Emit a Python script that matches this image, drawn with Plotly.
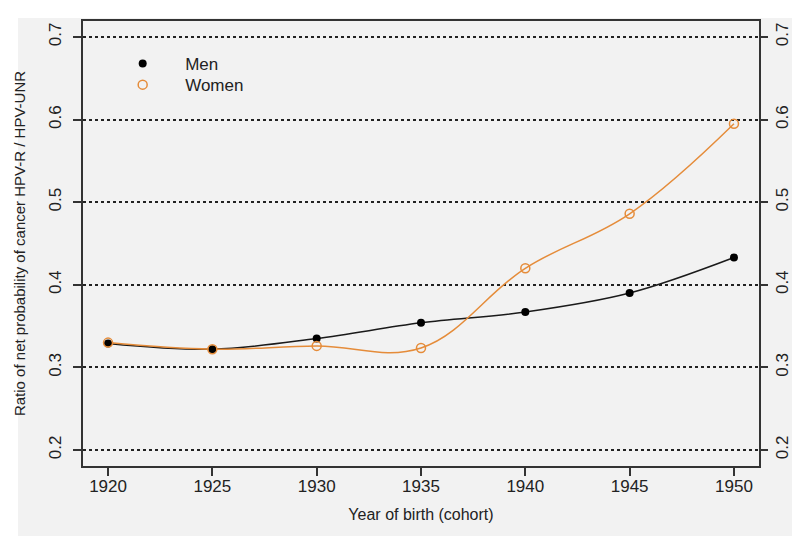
import plotly.graph_objects as go

years = [1920, 1925, 1930, 1935, 1940, 1945, 1950]
men = [0.329, 0.322, 0.335, 0.354, 0.367, 0.390, 0.433]
women = [0.330, 0.322, 0.326, 0.3235, 0.420, 0.486, 0.595]
y_ticks = [0.2, 0.3, 0.4, 0.5, 0.6, 0.7]

ORANGE = "#e58c3a"
FONT = "Liberation Sans, Arial, sans-serif"

fig = go.Figure()
# lines
fig.add_trace(go.Scatter(x=years, y=men, mode="lines", line=dict(color="#1a1a1a", width=1.5, shape="spline", smoothing=1.0), showlegend=False, hoverinfo="skip"))
fig.add_trace(go.Scatter(x=years, y=women, mode="lines", line=dict(color=ORANGE, width=1.5, shape="spline", smoothing=1.1), showlegend=False, hoverinfo="skip"))
# markers
fig.add_trace(go.Scatter(x=years, y=men, mode="markers", name="Men", legend="legend",
                         marker=dict(color="black", size=8, symbol="circle")))
fig.add_trace(go.Scatter(x=years, y=women, mode="markers", name="Women", legend="legend2",
                         marker=dict(color=ORANGE, size=9, symbol="circle-open", line=dict(width=1.5, color=ORANGE))))
# invisible trace for right axis
fig.add_trace(go.Scatter(x=[years[0]], y=[men[0]], yaxis="y2", mode="markers", marker=dict(opacity=0), showlegend=False, hoverinfo="skip"))

yrange = [0.1806, 0.7194]
leg_common = dict(xanchor="left", yanchor="middle", bgcolor="rgba(0,0,0,0)", font=dict(size=17), itemwidth=75)
fig.update_layout(
    width=800, height=540,
    margin=dict(l=75, r=49, t=13, b=82),
    paper_bgcolor="white",
    plot_bgcolor="#f2f2f2",
    font=dict(family=FONT, color="#222", size=15),
    xaxis=dict(range=[1918.8, 1951.2], tickvals=years, ticks="outside", ticklen=8, tickwidth=1.5,
               tickcolor="#333", showgrid=False, zeroline=False, showline=True, linecolor="#333", linewidth=1.5,
               mirror=True, tickfont=dict(size=17), ticklabelstandoff=-4,
               title=dict(text="Year of birth (cohort)", font=dict(size=16), standoff=14)),
    yaxis=dict(range=yrange, tickvals=y_ticks, ticktext=[str(v) for v in y_ticks], tickangle=-90,
               ticks="outside", ticklen=8, tickwidth=1.5, tickcolor="#333",
               showgrid=True, gridcolor="#222", griddash="dot", gridwidth=1.5, zeroline=False,
               showline=True, linecolor="#333", linewidth=1.5, mirror=True, tickfont=dict(size=17),
               ticklabelstandoff=5,
               title=dict(text="Ratio of net probability of cancer HPV-R / HPV-UNR", font=dict(size=15), standoff=17)),
    yaxis2=dict(range=yrange, tickvals=y_ticks, ticktext=[str(v) for v in y_ticks], tickangle=-90,
                overlaying="y", side="right", ticks="outside", ticklen=8, tickwidth=1.5, tickcolor="#333",
                showgrid=False, zeroline=False, showline=False, tickfont=dict(size=17)),
    legend=dict(x=0.0254, y=0.9033, **leg_common),
    legend2=dict(x=0.0254, y=0.856, **leg_common),
    shapes=[dict(type="rect", xref="paper", yref="paper", x0=-0.0962, x1=1.0547, y0=-0.1573, y1=1.0067,
                 fillcolor="#f2f2f2", line=dict(width=0), layer="below")],
)

fig.write_html("out.html")
